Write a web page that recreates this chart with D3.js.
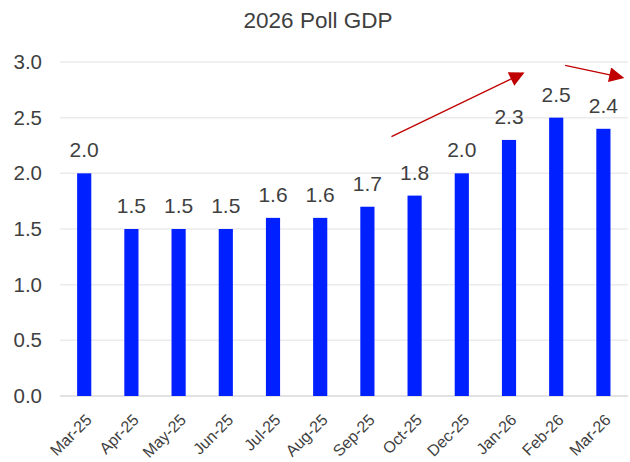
<!DOCTYPE html>
<html>
<head>
<meta charset="utf-8">
<script src="https://cdn.jsdelivr.net/npm/d3@7/dist/d3.min.js"></script>
<style>
  html, body { margin: 0; padding: 0; background: #fff; }
  svg { display: block; font-family: "Liberation Sans", Arial, sans-serif; }
</style>
</head>
<body>
<svg id="chart" width="630" height="462"></svg>
<script>
// Monthly poll readings for 2026 GDP growth
const months = ["Mar-25","Apr-25","May-25","Jun-25","Jul-25","Aug-25","Sep-25","Oct-25","Dec-25","Jan-26","Feb-26","Mar-26"];
const gdp = [2.0, 1.5, 1.5, 1.5, 1.6, 1.6, 1.7, 1.8, 2.0, 2.3, 2.5, 2.4];
const yTicks = [0, 0.5, 1.0, 1.5, 2.0, 2.5, 3.0];
// Trend arrows: [start band position, start value, end band position, end value]
const trendArrows = [
  [6.51, 2.33, 9.30, 2.90],
  [10.19, 2.97, 11.41, 2.86]
];

const svg = d3.select("#chart");
const margin = { top: 62, right: 3, bottom: 66, left: 60.6 };
const W = 630, H = 462;
const textColor = "#3f3f3f";

const x = d3.scaleBand().domain(months).range([margin.left, W - margin.right]).paddingInner(0.7).paddingOuter(0.35);
const y = d3.scaleLinear().domain([0, 3]).range([H - margin.bottom, margin.top]);
const step = x.step();
const bandPos = i => margin.left + step * (i + 0.5);

// Title
svg.append("text")
  .attr("x", 318).attr("y", 28)
  .attr("text-anchor", "middle")
  .attr("font-size", 22.5).attr("fill", textColor)
  .text("2026 Poll GDP");

// Horizontal gridlines
svg.append("g").selectAll("line").data(yTicks).join("line")
  .attr("x1", 60).attr("x2", 628)
  .attr("y1", d => y(d)).attr("y2", d => y(d))
  .attr("stroke", d => d === 0 ? "#d9d9d9" : "#ebebeb")
  .attr("stroke-width", 1.5);

// Y axis labels
const yAxis = d3.axisLeft(y).tickValues(yTicks).tickFormat(d3.format(".1f")).tickSize(0).tickPadding(0);
const gy = svg.append("g").attr("transform", "translate(42,0)").call(yAxis);
gy.select(".domain").remove();
gy.selectAll("text").attr("font-size", 20.5).attr("fill", textColor).attr("font-family", "Liberation Sans, Arial, sans-serif");

// Bars
svg.append("g").selectAll("rect").data(gdp).join("rect")
  .attr("x", (d, i) => x(months[i]))
  .attr("width", x.bandwidth())
  .attr("y", d => y(d))
  .attr("height", d => y(0) - y(d))
  .attr("fill", "#0020ff");

// Value labels
svg.append("g").selectAll("text").data(gdp).join("text")
  .attr("x", (d, i) => x(months[i]) + x.bandwidth() / 2)
  .attr("y", d => y(d) - 16)
  .attr("text-anchor", "middle")
  .attr("font-size", 21).attr("fill", textColor)
  .text(d => d3.format(".1f")(d));

// X axis labels, rotated
const xAxis = d3.axisBottom(x).tickSize(0).tickPadding(0);
const gx = svg.append("g").attr("transform", `translate(0,${y(0)})`).call(xAxis);
gx.select(".domain").remove();
gx.selectAll("text")
  .attr("font-size", 16).attr("fill", textColor)
  .attr("font-family", "Liberation Sans, Arial, sans-serif")
  .attr("text-anchor", "end")
  .attr("dy", null).attr("y", 0)
  .attr("transform", "translate(8.5,25) rotate(-45)");

// Trend arrows
const defs = svg.append("defs");
defs.append("marker")
  .attr("id", "head").attr("viewBox", "0 0 10 10")
  .attr("refX", 9).attr("refY", 5)
  .attr("markerWidth", 16).attr("markerHeight", 15)
  .attr("markerUnits", "userSpaceOnUse")
  .attr("orient", "auto")
  .append("path").attr("d", "M0,0 L10,5 L0,10 Z").attr("fill", "#c00000");

svg.append("g").selectAll("line").data(trendArrows).join("line")
  .attr("x1", d => bandPos(d[0])).attr("y1", d => y(d[1]))
  .attr("x2", d => bandPos(d[2])).attr("y2", d => y(d[3]))
  .attr("stroke", "#c00000").attr("stroke-width", 1.4)
  .attr("marker-end", "url(#head)");
</script>
</body>
</html>
